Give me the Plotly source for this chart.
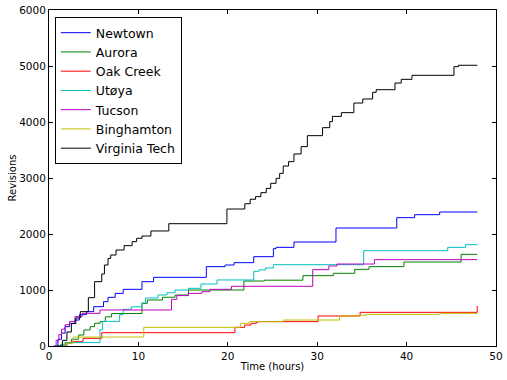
import plotly.graph_objects as go

series_names = ["Newtown", "Aurora", "Oak Creek", "Utøya", "Tucson", "Binghamton", "Virginia Tech"]
series_colors = ["#0000ff", "#008000", "#ff0000", "#00bfbf", "#bf00bf", "#bfbf00", "#000000"]

newtown_t = [0.6, 1.0, 1.4, 1.8, 2.3, 2.9, 3.4, 4.2, 5.0, 6.1, 6.6, 7.4, 8.3, 10.4, 11.7, 17.6, 19.7, 20.7, 22.9, 25.1, 25.4, 27.4, 32.1, 38.9, 40.9, 43.7, 47.9]
newtown_v = [0, 120, 230, 345, 405, 464, 560, 613, 702, 792, 869, 940, 1012, 1149, 1226, 1417, 1446, 1488, 1595, 1738, 1762, 1857, 2107, 2292, 2345, 2393, 2393]

aurora_t = [1.3, 1.8, 2.5, 3.3, 3.9, 4.6, 5.1, 5.7, 6.3, 7.0, 10.4, 11.0, 12.7, 14.1, 15.6, 21.8, 24.1, 28.4, 31.8, 34.2, 35.8, 39.7, 46.1, 47.9]
aurora_v = [0, 60, 120, 196, 286, 345, 405, 435, 520, 580, 762, 821, 870, 910, 1000, 1160, 1175, 1256, 1298, 1369, 1417, 1500, 1637, 1637]

oakcreek_t = [1.8, 2.0, 2.5, 3.8, 5.9, 20.8, 21.9, 22.6, 23.2, 23.5, 30.1, 34.8, 47.9]
oakcreek_v = [0, 50, 77, 137, 238, 333, 375, 405, 429, 435, 536, 601, 714]

utoya_t = [0.7, 1.3, 2.0, 5.7, 6.0, 7.9, 8.3, 9.2, 10.4, 10.8, 12.2, 13.2, 14.1, 15.6, 17.0, 18.8, 22.9, 23.5, 24.2, 25.1, 35.2, 44.6, 46.6, 47.9]
utoya_v = [0, 30, 60, 290, 440, 560, 655, 700, 768, 857, 911, 952, 1000, 1030, 1107, 1179, 1334, 1360, 1393, 1452, 1702, 1762, 1810, 1810]

tucson_t = [0.5, 0.8, 1.1, 1.4, 1.8, 2.3, 2.9, 3.7, 5.7, 13.7, 14.3, 15.6, 17.1, 18.0, 20.4, 29.5, 31.3, 32.2, 36.4, 47.9]
tucson_v = [0, 100, 200, 300, 380, 440, 524, 583, 643, 833, 900, 940, 970, 1012, 1066, 1363, 1429, 1464, 1542, 1542]

binghamton_t = [1.5, 1.9, 2.7, 10.6, 21.4, 22.4, 26.2, 32.5, 34.4, 35.5, 43.7, 47.9]
binghamton_v = [0, 50, 160, 333, 405, 435, 464, 530, 550, 565, 583, 583]

vt_t = [0.9, 1.5, 2.0, 2.5, 3.0, 3.5, 4.4, 5.1, 5.9, 6.2, 6.6, 6.9, 7.5, 8.4, 9.3, 9.8, 10.4, 11.4, 13.4, 19.9, 21.9, 22.5, 23.1, 23.7, 24.3, 24.8, 25.4, 25.8, 26.2, 26.8, 27.4, 28.2, 28.9, 30.6, 31.4, 31.7, 32.7, 34.1, 35.1, 36.2, 36.6, 38.7, 39.4, 40.6, 45.3, 45.8, 47.9]
vt_v = [0, 100, 250, 400, 500, 613, 863, 1149, 1286, 1446, 1565, 1625, 1714, 1792, 1863, 1923, 1964, 2054, 2184, 2446, 2540, 2620, 2667, 2738, 2815, 2905, 2994, 3083, 3214, 3292, 3429, 3560, 3756, 3899, 4006, 4100, 4167, 4339, 4411, 4530, 4577, 4696, 4762, 4834, 4988, 5013, 5013]

x_ticks = [0, 10, 20, 30, 40, 50]
y_ticks = [0, 1000, 2000, 3000, 4000, 5000, 6000]

all_t = [newtown_t, aurora_t, oakcreek_t, utoya_t, tucson_t, binghamton_t, vt_t]
all_v = [newtown_v, aurora_v, oakcreek_v, utoya_v, tucson_v, binghamton_v, vt_v]

fig = go.Figure()
for name, color, t, v in zip(series_names, series_colors, all_t, all_v):
    fig.add_trace(go.Scatter(x=t, y=v, mode="lines", name=name,
                             line=dict(color=color, width=1, shape="hv")))

font_family = "DejaVu Sans"
axis_common = dict(showline=True, linecolor="black", linewidth=1, mirror="ticks",
                   ticks="inside", ticklen=4, tickcolor="black", showgrid=False,
                   zeroline=False, automargin=False,
                   tickfont=dict(family=font_family, size=10.5, color="black"))

fig.update_layout(
    width=507, height=380,
    margin=dict(l=49, r=11, t=10, b=34),
    plot_bgcolor="white", paper_bgcolor="white",
    font=dict(family=font_family, color="black"),
    xaxis=dict(range=[0, 50], tickvals=x_ticks,
               title=dict(text="Time (hours)", font=dict(size=10), standoff=2), **axis_common),
    yaxis=dict(range=[0, 6000], tickvals=y_ticks,
               title=dict(text="Revisions", font=dict(size=10), standoff=0), **axis_common),
    legend=dict(x=0.013, y=0.979, xanchor="left", yanchor="top",
                bgcolor="white", bordercolor="black", borderwidth=1,
                font=dict(family=font_family, size=12.5, color="black"),
                tracegroupgap=0, itemwidth=30),
    showlegend=True,
)

fig.write_html("out.html", config={"displayModeBar": False},
               post_script="document.body.style.margin='0px';")
